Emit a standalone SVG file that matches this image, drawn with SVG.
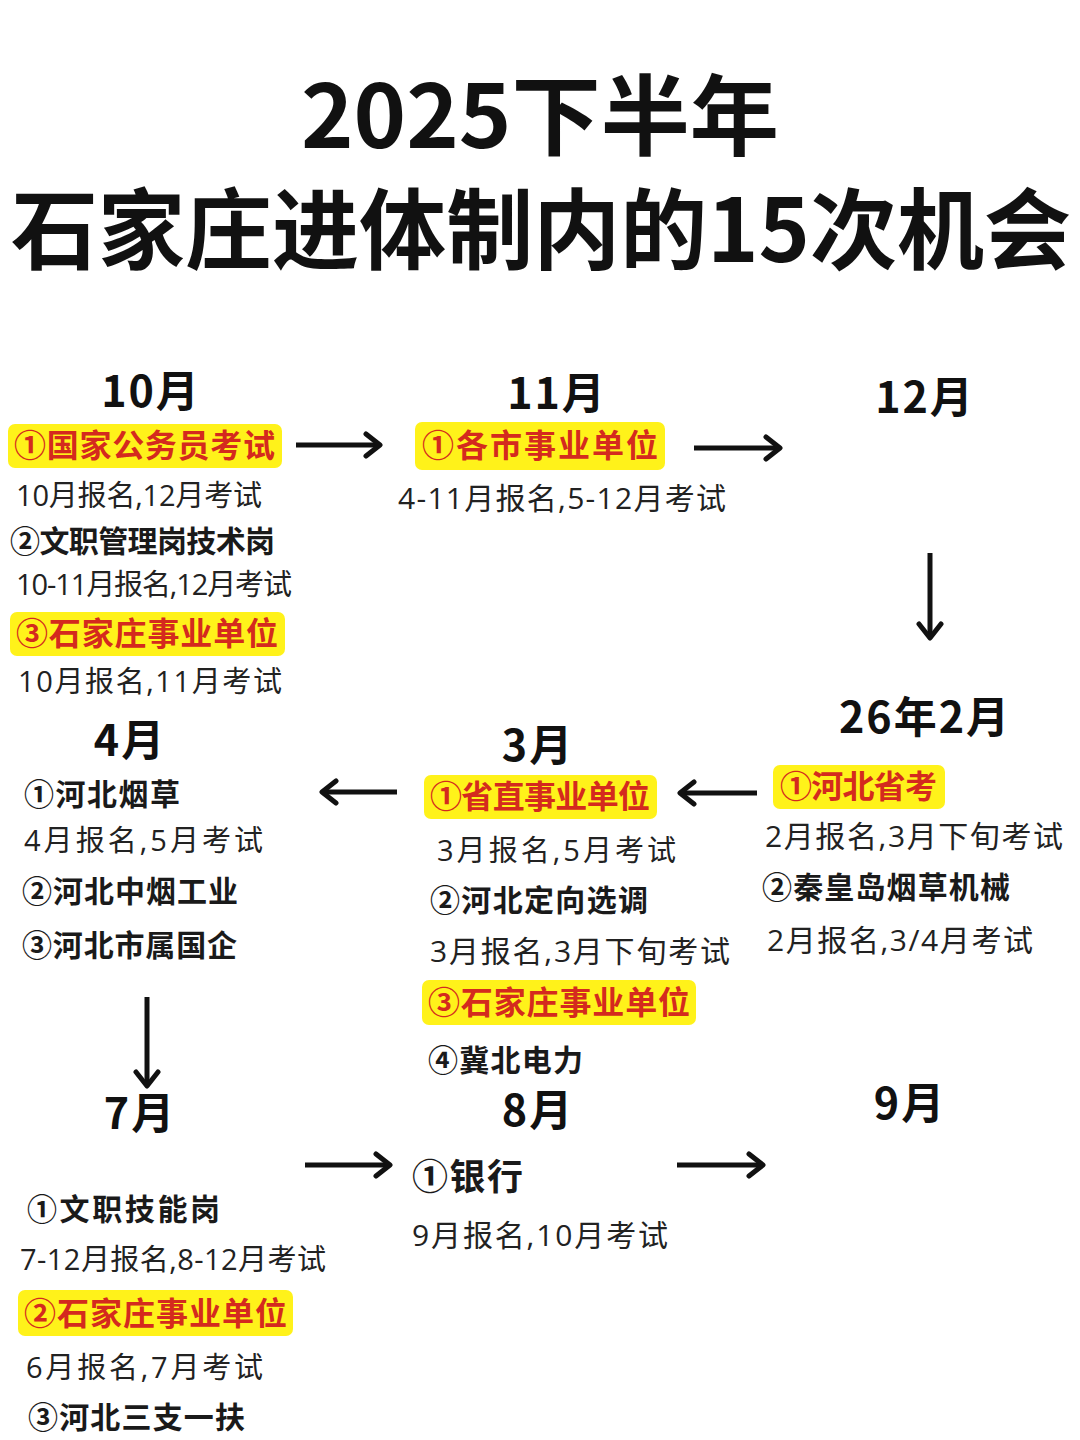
<svg xmlns="http://www.w3.org/2000/svg" width="1080" height="1440" viewBox="0 0 1080 1440">
<style>
text{font-family:"Noto Sans CJK SC","Noto Sans",sans-serif;}
.title{font-size:88px;font-weight:700;fill:#111;text-anchor:middle;}
.month{font-size:43px;font-weight:700;fill:#111;text-anchor:middle;letter-spacing:2px;}
.hl{fill:#FFF21A;}
.red{font-size:32px;font-weight:700;fill:#D42A1E;}
.item{font-size:30px;font-weight:700;fill:#1a1a1a;}
.note{font-family:"Open Sans","Noto Sans CJK SC",sans-serif;font-size:29px;font-weight:400;fill:#222;}
.big{font-size:30px;}
.arrow{stroke:#111;stroke-width:5;fill:none;marker-end:url(#head);}
</style>
<defs>
<marker id="head" markerUnits="userSpaceOnUse" markerWidth="24" markerHeight="28" refX="18" refY="14" orient="auto">
<path d="M4,3 L18,14 L4,25" fill="none" stroke="#111" stroke-width="5" stroke-linecap="round" stroke-linejoin="round"/>
</marker>
</defs>
<rect width="1080" height="1440" fill="#ffffff"/>
<g id="title">
<text class="title" x="540" y="148" textLength="478" lengthAdjust="spacingAndGlyphs">2025下半年</text>
<text class="title" x="541" y="262" textLength="1060" lengthAdjust="spacingAndGlyphs">石家庄进体制内的15次机会</text>
</g>
<g id="connectors">
<line class="arrow" x1="296" y1="445" x2="380" y2="445"/>
<line class="arrow" x1="694" y1="448" x2="780" y2="448"/>
<line class="arrow" x1="930" y1="553" x2="930" y2="638"/>
<line class="arrow" x1="757" y1="793" x2="680" y2="793"/>
<line class="arrow" x1="397" y1="792" x2="322" y2="792"/>
<line class="arrow" x1="147" y1="997" x2="147" y2="1086"/>
<line class="arrow" x1="305" y1="1165" x2="390" y2="1165"/>
<line class="arrow" x1="677" y1="1165" x2="763" y2="1165"/>
</g>
<g id="oct">
<text class="month" x="151" y="407">10月</text>
<rect class="hl" x="8" y="424" width="274" height="44" rx="7"/>
<text class="red" x="14" y="457" textLength="261">①国家公务员考试</text>
<text class="note" x="16" y="506" textLength="246">10月报名,12月考试</text>
<text class="item" x="10" y="552" textLength="265">②文职管理岗技术岗</text>
<text class="note" x="16" y="595" textLength="276">10-11月报名,12月考试</text>
<rect class="hl" x="10" y="612" width="275" height="44" rx="7"/>
<text class="red" x="16" y="645" textLength="262">③石家庄事业单位</text>
<text class="note" x="18" y="692" textLength="264">10月报名,11月考试</text>
</g>
<g id="nov">
<text class="month" x="557" y="409">11月</text>
<rect class="hl" x="415" y="422" width="250" height="48" rx="7"/>
<text class="red" x="422" y="457" textLength="236">①各市事业单位</text>
<text class="note big" x="398" y="509" textLength="328">4-11月报名,5-12月考试</text>
</g>
<g id="dec">
<text class="month" x="925" y="413">12月</text>
</g>
<g id="feb">
<text class="month" x="925" y="733">26年2月</text>
<rect class="hl" x="773" y="765" width="172" height="44" rx="7"/>
<text class="red" x="780" y="798" textLength="157">①河北省考</text>
<text class="note big" x="765" y="847" textLength="298">2月报名,3月下旬考试</text>
<text class="item" x="762" y="898" textLength="248">②秦皇岛烟草机械</text>
<text class="note big" x="767" y="951" textLength="266">2月报名,3/4月考试</text>
</g>
<g id="mar">
<text class="month" x="538" y="761">3月</text>
<rect class="hl" x="424" y="775" width="233" height="44" rx="7"/>
<text class="red" x="430" y="808" textLength="220">①省直事业单位</text>
<text class="note" x="437" y="861" textLength="239">3月报名,5月考试</text>
<text class="item" x="430" y="911" textLength="218">②河北定向选调</text>
<text class="note big" x="430" y="962" textLength="300">3月报名,3月下旬考试</text>
<rect class="hl" x="422" y="980" width="274" height="45" rx="7"/>
<text class="red" x="428" y="1014" textLength="262">③石家庄事业单位</text>
<text class="item" x="428" y="1071" textLength="155">④冀北电力</text>
</g>
<g id="apr">
<text class="month" x="130" y="756">4月</text>
<text class="item" x="24" y="805" textLength="156">①河北烟草</text>
<text class="note" x="24" y="851" textLength="239">4月报名,5月考试</text>
<text class="item" x="22" y="902" textLength="216">②河北中烟工业</text>
<text class="item" x="22" y="956" textLength="215">③河北市属国企</text>
</g>
<g id="jul">
<text class="month" x="140" y="1129">7月</text>
<text class="item" x="27" y="1220" textLength="193">①文职技能岗</text>
<text class="note" x="20" y="1270" textLength="306">7-12月报名,8-12月考试</text>
<rect class="hl" x="18" y="1290" width="275" height="46" rx="7"/>
<text class="red" x="24" y="1325" textLength="263">②石家庄事业单位</text>
<text class="note" x="26" y="1378" textLength="237">6月报名,7月考试</text>
<text class="item" x="28" y="1428" textLength="217">③河北三支一扶</text>
</g>
<g id="aug">
<text class="month" x="538" y="1126">8月</text>
<text class="item" x="412" y="1190" style="font-size:36px" textLength="111">①银行</text>
<text class="note big" x="412" y="1246" textLength="256">9月报名,10月考试</text>
</g>
<g id="sep">
<text class="month" x="910" y="1119">9月</text>
</g>
</svg>
